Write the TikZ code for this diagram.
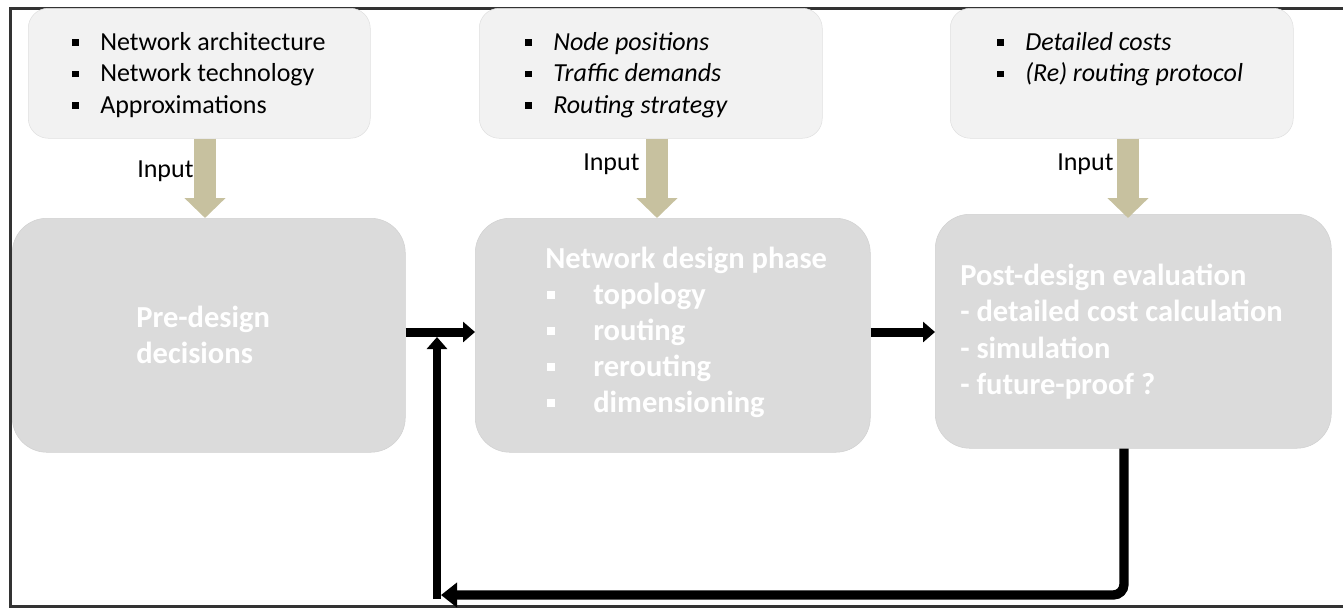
\documentclass[tikz,border=0pt]{standalone}
\usepackage{fontspec}
\setmainfont{Carlito}
\usetikzlibrary{arrows.meta,calc}
\definecolor{topfill}{HTML}{F2F2F2}
\definecolor{bigfill}{HTML}{DBDBDB}
\definecolor{inputc}{HTML}{C7C19F}
\definecolor{framec}{HTML}{333333}
\newcommand\blkbul{\makebox[21pt][l]{\rule[3.2pt]{5pt}{5pt}}}
\newcommand\whtbul{\makebox[34.5pt][l]{\textcolor{white}{\rule[3.8pt]{6pt}{6pt}}}}
\tikzset{
  topbox/.style={draw=black!12, fill=topfill, rounded corners=15pt, anchor=north west, inner sep=0pt, minimum height=97.5pt},
  bigbox/.style={draw=black!18, line width=0.4pt, fill=bigfill, rounded corners=26pt, anchor=north west, inner sep=0pt, minimum height=175.5pt},
  toptext/.style={anchor=base west, inner sep=0pt, font=\fontsize{19.5pt}{23pt}\selectfont},
  bigtext/.style={anchor=base west, inner sep=0pt, text=white, font=\fontsize{22.9pt}{27pt}\selectfont\bfseries},
  inarrow/.style={draw=inputc, line width=16.5pt, -{Triangle[width=30pt,length=15pt]}, inputc},
  flow/.style={draw=black, line width=6.75pt, -{Triangle[width=15pt,length=9pt]}},
  feed/.style={draw=black, line width=7pt, -{Triangle[width=18pt,length=12pt]}, rounded corners=8pt}
}
\begin{document}
\begin{tikzpicture}[x=0.75pt,y=-0.75pt]
\useasboundingbox (0,0) rectangle (1343,608);
% frame
\draw[framec, line width=2.25pt] (1343,8) -- (10,8) -- (10,606) -- (1343,606);

% top boxes
\node[topbox, minimum width=256.5pt] (top1) at (28,8) {};
\node[topbox, minimum width=257.25pt] (top2) at (479,8) {};
\node[topbox, minimum width=257.25pt] (top3) at (950,8) {};

% big boxes
\node[bigbox, minimum width=294.75pt] (A) at (12,218) {};
\node[bigbox, minimum width=296.25pt] (B) at (475,218) {};
\node[bigbox, minimum width=297pt] (C) at (935,214) {};

% top texts
\node[toptext] (t11) at (72,50) {\blkbul Network architecture};
\node[toptext] (t12) at (72,81.5) {\blkbul Network technology};
\node[toptext] (t13) at (72,113) {\blkbul Approximations};
\node[toptext] (t21) at (525,50) {\blkbul\textit{Node positions}};
\node[toptext] (t22) at (525,81.5) {\blkbul\textit{Traffic demands}};
\node[toptext] (t23) at (525,113) {\blkbul\textit{Routing strategy}};
\node[toptext] (t31) at (997,50) {\blkbul\textit{Detailed costs}};
\node[toptext] (t32) at (997,81.5) {\blkbul\textit{(Re) routing protocol}};

% input arrows
\coordinate (ia) at (205,0);
\coordinate (ib) at (657,0);
\coordinate (ic) at (1128,0);
\draw[inarrow] (ia |- top1.south) -- (ia |- A.north);
\draw[inarrow] (ib |- top2.south) -- (ib |- B.north);
\draw[inarrow] (ic |- top3.south) -- ($(ic |- C.north)+(0,4)$);
\node[toptext] (in1) at (137,177) {Input};
\node[toptext] (in2) at (583,170) {Input};
\node[toptext] (in3) at (1057,170) {Input};

% big texts
\node[bigtext] (a1) at (136,327) {Pre-design};
\node[bigtext] (a2) at (136,363) {decisions};
\node[bigtext] (b0) at (545,268) {Network design phase};
\node[bigtext] (b1) at (547,304) {\whtbul topology};
\node[bigtext] (b2) at (547,340) {\whtbul routing};
\node[bigtext] (b3) at (547,376) {\whtbul rerouting};
\node[bigtext] (b4) at (547,412) {\whtbul dimensioning};
\node[bigtext] (c0) at (960,285) {Post-design evaluation};
\node[bigtext] (c1) at (960,321.5) {- detailed cost calculation};
\node[bigtext] (c2) at (960,358) {- simulation};
\node[bigtext] (c3) at (960,394.5) {- future-proof ?};

% flow arrows
\coordinate (mid) at (0,332);
\draw[flow] (A.east |- mid) -- (B.west |- mid);
\draw[flow] (B.east |- mid) -- (C.west |- mid);

% feedback
\coordinate (fbcorner) at (1124,595);
\coordinate (fbend) at (441,595);
\draw[feed] (fbcorner |- C.south) -- (fbcorner) -- (fbend);
\coordinate (upstart) at (437,599);
\coordinate (uptip) at (437,337);
\draw[flow, line width=6.5pt] (upstart) -- (uptip);
\end{tikzpicture}
\end{document}
